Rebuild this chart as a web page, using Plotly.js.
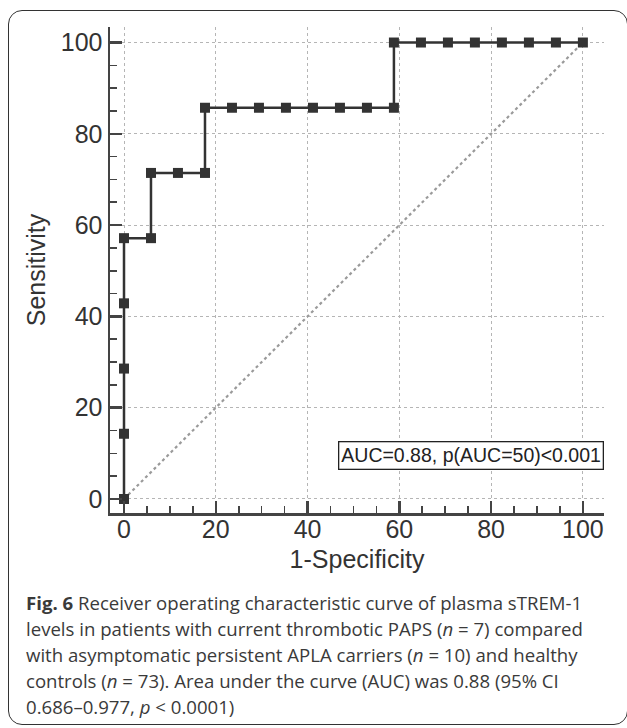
<!DOCTYPE html>
<html>
<head>
<meta charset="utf-8">
<script src="https://cdn.plot.ly/plotly-3.0.1.min.js"></script>
<style>
  html, body { margin: 0; padding: 0; background: #fff; }
  #wrap { position: relative; width: 627px; height: 728px; overflow: hidden; }
  #frame { position: absolute; left: 8px; top: 10px; width: 620px; height: 715px;
           border: 1.5px solid #333; border-radius: 14px; box-sizing: border-box; }
  #chart { position: absolute; left: 0; top: 0; width: 627px; height: 728px; }
</style>
</head>
<body>
<div id="wrap">
  <div id="frame"></div>
  <div id="chart"></div>
</div>
<script>
// ROC curve points (1-Specificity, Sensitivity), in %
const fpr = [0, 0, 0, 0, 0, 5.88, 5.88, 11.76, 17.65, 17.65, 23.53, 29.41, 35.29, 41.18, 47.06, 52.94, 58.82, 58.82, 64.71, 70.59, 76.47, 82.35, 88.24, 94.12, 100];
const tpr = [0, 14.29, 28.57, 42.86, 57.14, 57.14, 71.43, 71.43, 71.43, 85.71, 85.71, 85.71, 85.71, 85.71, 85.71, 85.71, 85.71, 100, 100, 100, 100, 100, 100, 100, 100];
const diagX = [0, 100];
const diagY = [0, 100];
const tickVals = [0, 20, 40, 60, 80, 100];
const tickText = ['0', '20', '40', '60', '80', '100'];
const aucLabel = 'AUC=0.88, p(AUC=50)<0.001';
const xTitle = '1-Specificity';
const yTitle = 'Sensitivity';
const captionLines = [
  '<b>Fig. 6</b> Receiver operating characteristic curve of plasma sTREM-1',
  'levels in patients with current thrombotic PAPS (<i>n</i> = 7) compared',
  'with asymptomatic persistent APLA carriers (<i>n</i> = 10) and healthy',
  'controls (<i>n</i> = 73). Area under the curve (AUC) was 0.88 (95% CI',
  '0.686–0.977, <i>p</i> &lt; 0.0001)'
];

const L = 110, R = 23, T = 27, B = 215;
const plotH = 728 - T - B;
function pyToPaper(py) { return (728 - B - py) / plotH; }

const traces = [
  { x: diagX, y: diagY, mode: 'lines', type: 'scatter',
    line: { color: '#9a9a9a', width: 2.2, dash: 'dot' }, hoverinfo: 'skip' },
  { x: fpr, y: tpr, mode: 'lines+markers', type: 'scatter',
    line: { color: '#333333', width: 2.5, shape: 'linear' },
    marker: { symbol: 'square', size: 10, color: '#333333' } }
];

const axisCommon = {
  tickmode: 'array', tickvals: tickVals, ticktext: tickText,
  ticks: 'inside', ticklen: 12, tickwidth: 2.5, tickcolor: '#444',
  showline: true, linecolor: '#444', linewidth: 2.5,
  showgrid: true, gridcolor: '#b5b5b5', gridwidth: 1, griddash: 'dot',
  zeroline: false,
  tickfont: { family: 'Liberation Sans, Arial, sans-serif', size: 25, color: '#333' },
  minor: { dtick: 5, tick0: 0, ticks: 'inside', ticklen: 7, tickwidth: 1.6, tickcolor: '#444', showgrid: false }
};

const annotations = [
  { xref: 'paper', yref: 'y', x: 1, y: 9.6, xanchor: 'right', yanchor: 'middle',
    text: aucLabel, showarrow: false,
    font: { family: 'Liberation Sans, Arial, sans-serif', size: 19.5, color: '#222' },
    bordercolor: '#222', borderwidth: 1.3, borderpad: 2, bgcolor: '#fff' }
];
const capY = [602, 628, 654, 680, 706];
captionLines.forEach((t, i) => {
  annotations.push({ xref: 'paper', yref: 'paper', x: (24 - L) / (627 - L - R), y: pyToPaper(capY[i]),
    xanchor: 'left', yanchor: 'middle', text: t, showarrow: false, align: 'left',
    font: { family: 'Open Sans, sans-serif', size: 18.6, color: '#3a3a3a' } });
});

const layout = {
  width: 627, height: 728,
  margin: { l: L, r: R, t: T, b: B, pad: 0 },
  paper_bgcolor: 'rgba(0,0,0,0)', plot_bgcolor: 'rgba(0,0,0,0)',
  showlegend: false,
  xaxis: Object.assign({}, axisCommon, { range: [-3.05, 104.6], ticklabelstandoff: -8,
    title: { text: xTitle, font: { family: 'Liberation Sans, Arial, sans-serif', size: 25, color: '#333' }, standoff: 9 } }),
  yaxis: Object.assign({}, axisCommon, { range: [-3.07, 103.4],
    title: { text: yTitle, font: { family: 'Liberation Sans, Arial, sans-serif', size: 25, color: '#333' }, standoff: 8 } }),
  annotations: annotations
};

Plotly.newPlot('chart', traces, layout, { displayModeBar: false, staticPlot: true });
</script>
</body>
</html>
